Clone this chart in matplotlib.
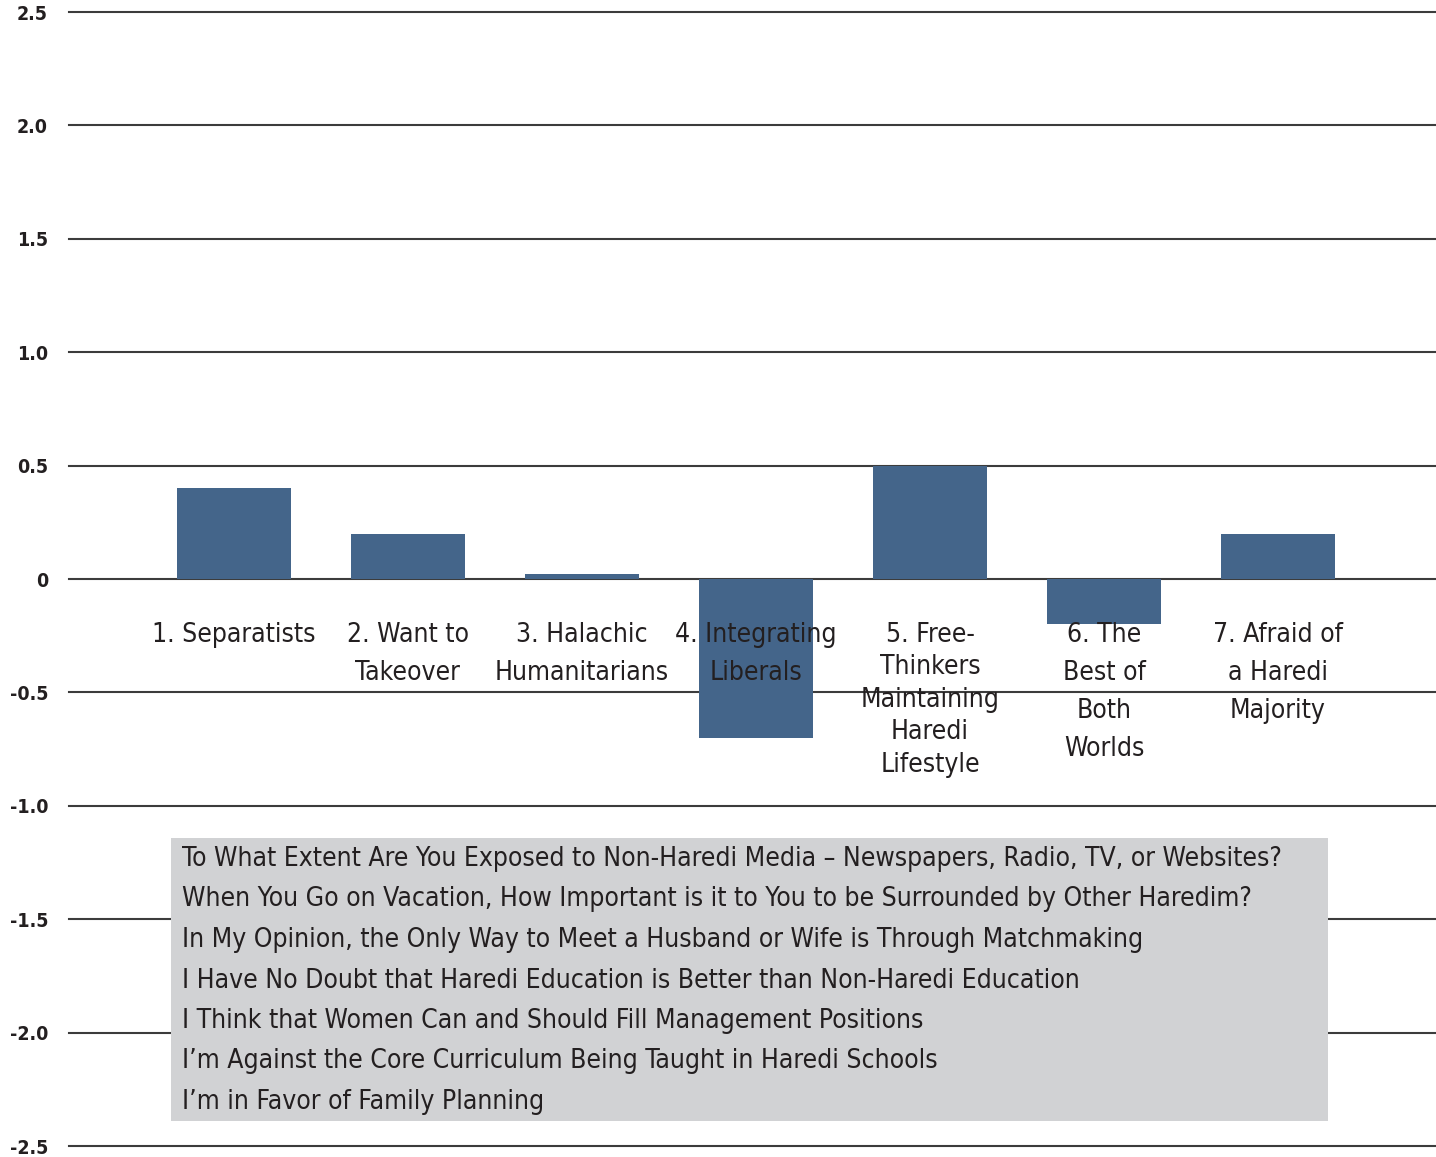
import matplotlib
matplotlib.use("Agg")
import matplotlib.pyplot as plt
from matplotlib.patches import Rectangle

# data
groups = ["1. Separatists", "2. Want to\nTakeover", "3. Halachic\nHumanitarians",
          "4. Integrating\nLiberals", "5. Free-\nThinkers\nMaintaining\nHaredi\nLifestyle",
          "6. The\nBest of\nBoth\nWorlds", "7. Afraid of\na Haredi\nMajority"]
scores = [0.40, 0.20, 0.02, -0.70, 0.50, -0.20, 0.20]
yticks = [-2.5, -2.0, -1.5, -1.0, -0.5, 0, 0.5, 1.0, 1.5, 2.0, 2.5]
ytick_labels = ["-2.5", "-2.0", "-1.5", "-1.0", "-0.5", "0", "0.5", "1.0", "1.5", "2.0", "2.5"]
questions = [
    "To What Extent Are You Exposed to Non-Haredi Media \u2013 Newspapers, Radio, TV, or Websites?",
    "When You Go on Vacation, How Important is it to You to be Surrounded by Other Haredim?",
    "In My Opinion, the Only Way to Meet a Husband or Wife is Through Matchmaking",
    "I Have No Doubt that Haredi Education is Better than Non-Haredi Education",
    "I Think that Women Can and Should Fill Management Positions",
    "I\u2019m Against the Core Curriculum Being Taught in Haredi Schools",
    "I\u2019m in Favor of Family Planning",
]

bar_color = "#44658A"
grid_color = "#3c3c3c"
text_color = "#231f20"
fam = ["Liberation Sans Narrow", "DejaVu Sans"]

fig = plt.figure(figsize=(14.36, 11.57), dpi=100)
ax = fig.add_axes([0.048, 0.0095, 0.952, 0.9801])

x = list(range(len(groups)))
ax.bar(x, scores, width=0.655, color=bar_color, zorder=2)

for yv in yticks:
    ax.axhline(yv, color=grid_color, lw=1.5, zorder=1, clip_on=False)

ax.set_xlim(-0.948, 6.908)
ax.set_ylim(-2.5, 2.5)
ax.set_xticks([])
ax.set_yticks(yticks)
ax.set_yticklabels(ytick_labels, fontsize=14, fontweight="bold", color=text_color, family=fam,
                   fontstretch="condensed")
ax.tick_params(axis="y", length=0, pad=15)
for s in ax.spines.values():
    s.set_visible(False)

# category labels drawn over the bars
for xi, lab in zip(x, groups):
    ls = 1.33 if lab.count("\n") > 3 else 1.61
    ax.text(xi, -0.188, lab, ha="center", va="top", fontsize=19, color=text_color,
            family=fam, linespacing=ls, zorder=3, fontstretch="condensed")

# question box
fig.patches.append(Rectangle((171 / 1436, 1 - 1121 / 1157), (1328 - 171) / 1436, (1121 - 838) / 1157,
                             transform=fig.transFigure, facecolor="#d1d2d4", edgecolor="none", zorder=5))
for i, q in enumerate(questions):
    fig.text(182 / 1436, 1 - (859 + 40.5 * i) / 1157, q, ha="left", va="center", fontsize=19,
             color=text_color, family=fam, zorder=6, fontstretch="condensed")

fig.savefig("out.png", dpi=100)
